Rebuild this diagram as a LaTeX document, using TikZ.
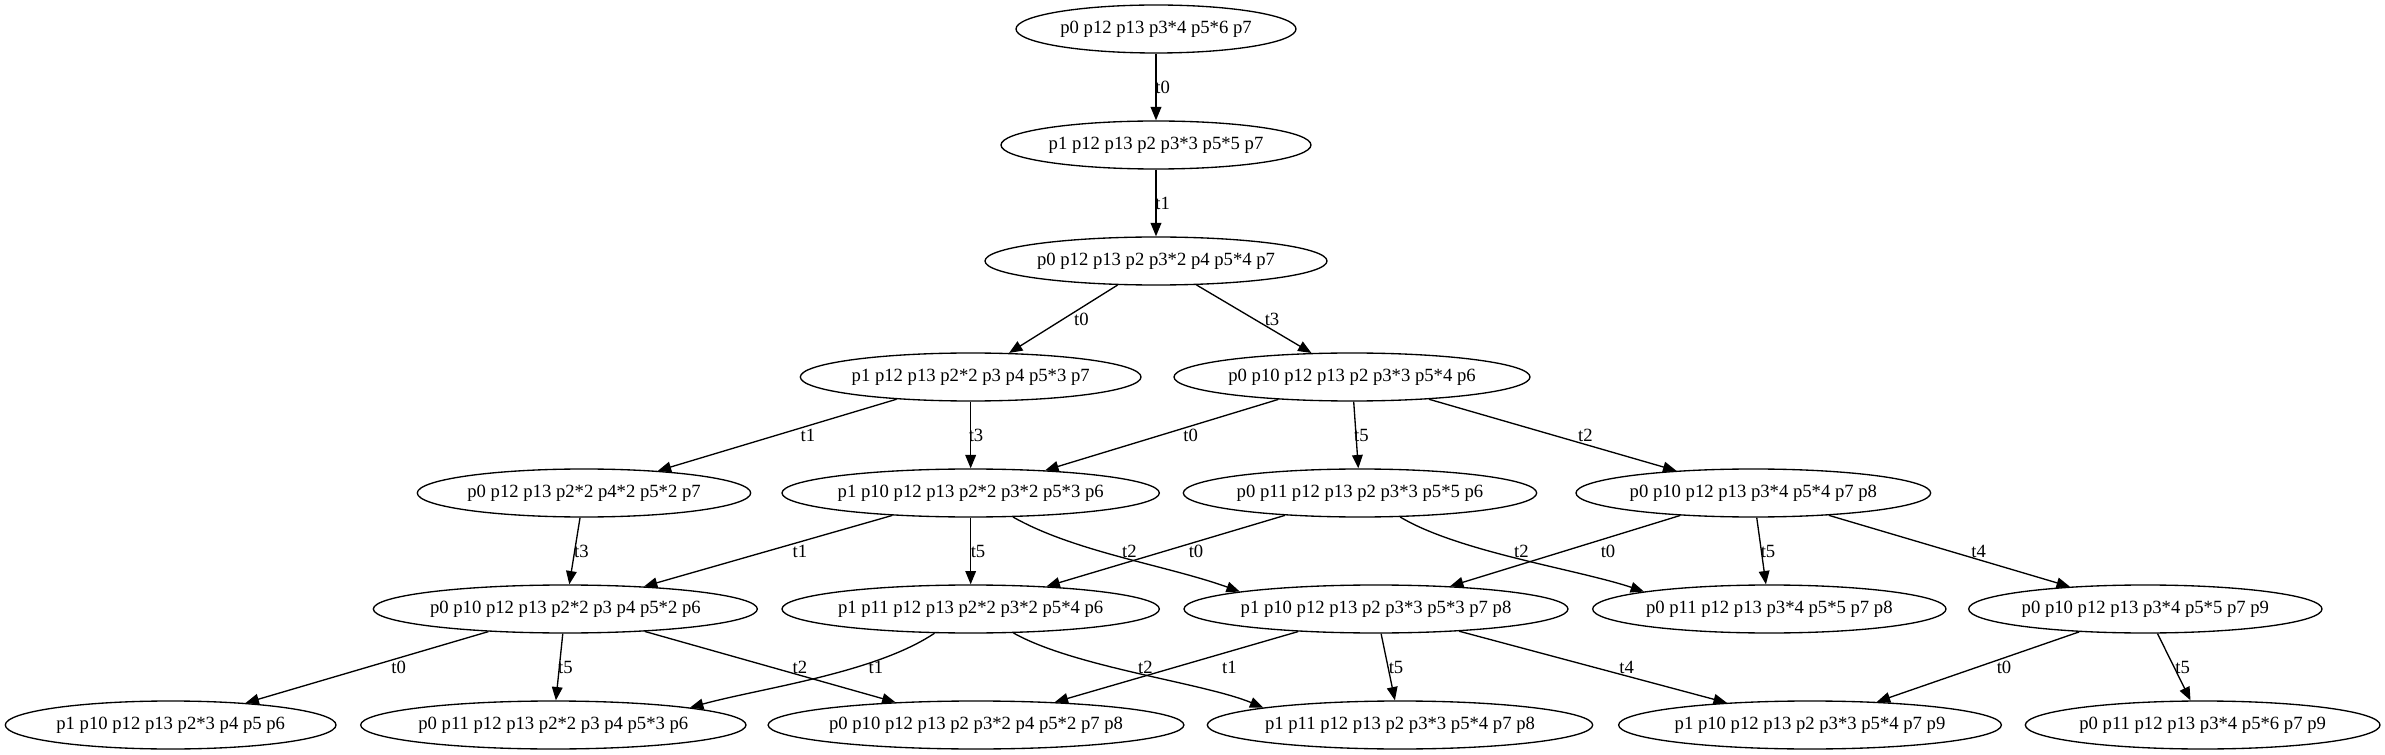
\documentclass[tikz,border=0pt]{standalone}
\usepackage{fontspec}
\setmainfont{Liberation Serif}
\usetikzlibrary{arrows.meta,shapes.geometric}
\begin{document}
\begin{tikzpicture}[x=1pt,y=1pt,
  st/.style={draw, ellipse, inner xsep=0pt, inner ysep=0pt, minimum height=36pt, line width=1pt, font=\fontsize{14}{16}\selectfont},
  lb/.style={inner sep=0pt, font=\fontsize{14}{16}\selectfont},
  ed/.style={-{Triangle[length=10pt,width=8pt]}, line width=1pt}]
\useasboundingbox (0,0) rectangle (1788.75,-566.25);
% nodes
\node[st, minimum width=210pt] (n0) at (867,-21.75) {p0 p12 p13 p3*4 p5*6 p7};
\node[st, minimum width=232.5pt] (n1) at (867,-108.75) {p1 p12 p13 p2 p3*3 p5*5 p7};
\node[st, minimum width=256.5pt] (n2) at (867,-195.75) {p0 p12 p13 p2 p3*2 p4 p5*4 p7};
\node[st, minimum width=255.5pt] (n3) at (728,-282.75) {p1 p12 p13 p2*2 p3 p4 p5*3 p7};
\node[st, minimum width=267pt] (n4) at (1014,-282.75) {p0 p10 p12 p13 p2 p3*3 p5*4 p6};
\node[st, minimum width=250pt] (n5) at (438,-369.75) {p0 p12 p13 p2*2 p4*2 p5*2 p7};
\node[st, minimum width=283pt] (n6) at (728,-369.75) {p1 p10 p12 p13 p2*2 p3*2 p5*3 p6};
\node[st, minimum width=265pt] (n7) at (1020,-369.75) {p0 p11 p12 p13 p2 p3*3 p5*5 p6};
\node[st, minimum width=266pt] (n8) at (1315,-369.75) {p0 p10 p12 p13 p3*4 p5*4 p7 p8};
\node[st, minimum width=288pt] (n9) at (424,-456.75) {p0 p10 p12 p13 p2*2 p3 p4 p5*2 p6};
\node[st, minimum width=283pt] (n10) at (728,-456.75) {p1 p11 p12 p13 p2*2 p3*2 p5*4 p6};
\node[st, minimum width=288pt] (n11) at (1032,-456.75) {p1 p10 p12 p13 p2 p3*3 p5*3 p7 p8};
\node[st, minimum width=265pt] (n12) at (1327,-456.75) {p0 p11 p12 p13 p3*4 p5*5 p7 p8};
\node[st, minimum width=265pt] (n13) at (1609,-456.75) {p0 p10 p12 p13 p3*4 p5*5 p7 p9};
\node[st, minimum width=248pt] (n14) at (128,-543.75) {p1 p10 p12 p13 p2*3 p4 p5 p6};
\node[st, minimum width=289pt] (n15) at (415,-543.75) {p0 p11 p12 p13 p2*2 p3 p4 p5*3 p6};
\node[st, minimum width=311pt] (n16) at (732,-543.75) {p0 p10 p12 p13 p2 p3*2 p4 p5*2 p7 p8};
\node[st, minimum width=289pt] (n17) at (1050,-543.75) {p1 p11 p12 p13 p2 p3*3 p5*4 p7 p8};
\node[st, minimum width=287pt] (n18) at (1357.5,-543.75) {p1 p10 p12 p13 p2 p3*3 p5*4 p7 p9};
\node[st, minimum width=266pt] (n19) at (1652,-543.75) {p0 p11 p12 p13 p3*4 p5*6 p7 p9};
% edges
\draw[ed] (n0) -- (n1);
\draw[ed] (n1) -- (n2);
\draw[ed] (n2) -- (n3);
\draw[ed] (n2) -- (n4);
\draw[ed] (n3) -- (n5);
\draw[ed] (n3) -- (n6);
\draw[ed] (n4) -- (n6);
\draw[ed] (n4) -- (n7);
\draw[ed] (n4) -- (n8);
\draw[ed] (n5) -- (n9);
\draw[ed] (n6) -- (n9);
\draw[ed] (n6) -- (n10);
\draw[ed] (n6) .. controls (806,-414) and (875,-424) .. (n11.north west);
\draw[ed] (n7) -- (n10);
\draw[ed] (n7) .. controls (1094,-414) and (1183,-427) .. (n12.north west);
\draw[ed] (n8) -- (n11);
\draw[ed] (n8) -- (n12);
\draw[ed] (n8) -- (n13);
\draw[ed] (n9) -- (n14);
\draw[ed] (n9) -- (n15);
\draw[ed] (n9) -- (n16);
\draw[ed] (n10) .. controls (656,-505) and (571,-516) .. (n15.north east);
\draw[ed] (n10) .. controls (806,-500.5) and (902,-512) .. (n17.north west);
\draw[ed] (n11) -- (n16);
\draw[ed] (n11) -- (n17);
\draw[ed] (n11) -- (n18);
\draw[ed] (n13) -- (n18);
\draw[ed] (n13) -- (n19);
% labels
\node[lb] (l01) at (872,-65.25) {t0};
\node[lb] (l12) at (872,-152.25) {t1};
\node[lb] (l23) at (811,-239.25) {t0};
\node[lb] (l24) at (954,-239.25) {t3};
\node[lb] (l35) at (606,-326.25) {t1};
\node[lb] (l36) at (732,-326.25) {t3};
\node[lb] (l46) at (893,-326.25) {t0};
\node[lb] (l47) at (1021,-326.25) {t5};
\node[lb] (l48) at (1189,-326.25) {t2};
\node[lb] (l59) at (436,-413.25) {t3};
\node[lb] (l69) at (600,-413.25) {t1};
\node[lb] (l610) at (733.5,-413.25) {t5};
\node[lb] (l611) at (847,-413.25) {t2};
\node[lb] (l710) at (897,-413.25) {t0};
\node[lb] (l712) at (1141,-413.25) {t2};
\node[lb] (l811) at (1206,-413.25) {t0};
\node[lb] (l812) at (1326,-413.25) {t5};
\node[lb] (l813) at (1484,-413.25) {t4};
\node[lb] (l914) at (299,-500.25) {t0};
\node[lb] (l915) at (424,-500.25) {t5};
\node[lb] (l916) at (600,-500.25) {t2};
\node[lb] (l1015) at (657,-500.25) {t1};
\node[lb] (l1017) at (859,-500.25) {t2};
\node[lb] (l1116) at (922,-500.25) {t1};
\node[lb] (l1117) at (1047,-500.25) {t5};
\node[lb] (l1118) at (1220,-500.25) {t4};
\node[lb] (l1318) at (1503,-500.25) {t0};
\node[lb] (l1319) at (1637,-500.25) {t5};
\end{tikzpicture}
\end{document}
